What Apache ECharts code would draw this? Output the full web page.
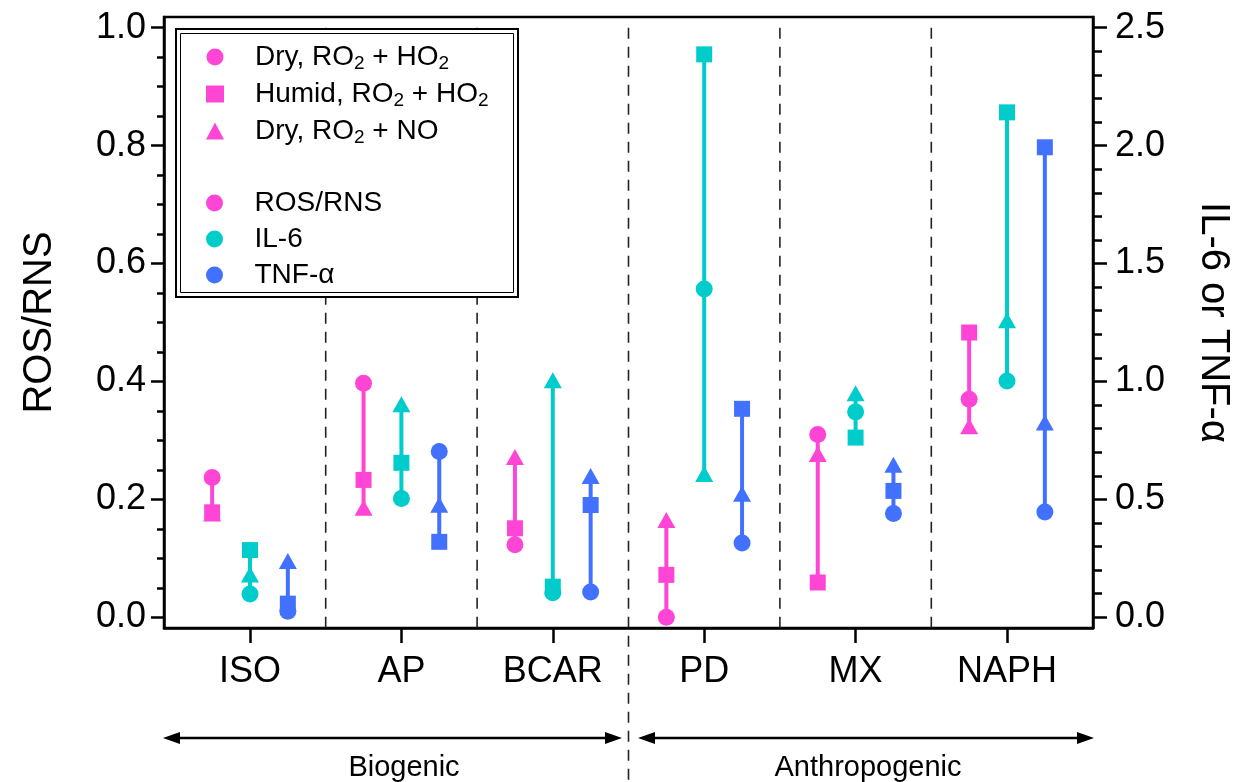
<!DOCTYPE html>
<html>
<head>
<meta charset="utf-8">
<script src="https://cdn.jsdelivr.net/npm/echarts@6/dist/echarts.min.js"></script>
<style>
  html, body { margin: 0; padding: 0; background: #fff; }
  #chart { width: 1246px; height: 782px; }
</style>
</head>
<body>
<div id="chart"></div>
<script>
  // categories and group positions
  const categories = ['ISO', 'AP', 'BCAR', 'PD', 'MX', 'NAPH'];
  const separators = [0.5, 1.5, 2.5, 3.5, 4.5];

  // ROS/RNS (left axis)
  const rosDry = [0.237, 0.397, 0.123, 0.000, 0.310, 0.370];
  const rosHumid = [0.178, 0.233, 0.151, 0.072, 0.059, 0.483];
  const rosNO = [0.176, 0.186, 0.272, 0.165, 0.277, 0.324];

  // IL-6 (right axis)
  const il6Dry = [0.099, 0.504, 0.104, 1.392, 0.871, 1.002];
  const il6Humid = [0.285, 0.655, 0.130, 2.387, 0.762, 2.141];
  const il6NO = [0.181, 0.903, 1.005, 0.608, 0.950, 1.260];

  // TNF-alpha (right axis)
  const tnfDry = [0.026, 0.703, 0.107, 0.315, 0.440, 0.446];
  const tnfHumid = [0.058, 0.320, 0.476, 0.884, 0.536, 1.993];
  const tnfNO = [0.239, 0.477, 0.599, 0.524, 0.647, 0.826];

  // tick labels
  const leftTicks = [0, 0.2, 0.4, 0.6, 0.8, 1.0];
  const leftMinor = [0.05, 0.1, 0.15, 0.25, 0.3, 0.35, 0.45, 0.5, 0.55, 0.65, 0.7, 0.75, 0.85, 0.9, 0.95];
  const rightTicks = [0, 0.5, 1.0, 1.5, 2.0, 2.5];
  const rightMinor = [0.1, 0.2, 0.3, 0.4, 0.6, 0.7, 0.8, 0.9, 1.1, 1.2, 1.3, 1.4, 1.6, 1.7, 1.8, 1.9, 2.1, 2.2, 2.3, 2.4];
  const catTicks = [0, 1, 2, 3, 4, 5];

  const PINK = '#ff45d6';
  const TEAL = '#00cccc';
  const BLUE = '#4271ff';
  const FONT = '"Liberation Sans", Arial, sans-serif';

  let chart = echarts.init(document.getElementById('chart'));

  function rangeSeries(off, a, b, c, yIdx, color) {
    const data = categories.map((n, i) => {
      const vals = [a[i], b[i], c[i]].filter(v => v != null);
      return [i + off, Math.min(...vals), Math.max(...vals)];
    });
    return {
      type: 'custom',
      yAxisIndex: yIdx,
      z: 2,
      silent: true,
      encode: { x: 0, y: [1, 2] },
      renderItem: function (params, api) {
        const p1 = api.coord([api.value(0), api.value(1)]);
        const p2 = api.coord([api.value(0), api.value(2)]);
        return {
          type: 'line',
          shape: { x1: p1[0], y1: p1[1], x2: p2[0], y2: p2[1] },
          style: { stroke: color, lineWidth: 4 }
        };
      },
      data: data
    };
  }

  function pts(off, vals) {
    return vals.map((v, i) => [i + off, v]);
  }

  function markers(name, off, vals, yIdx, color, symbol, size) {
    return {
      name: name,
      type: 'scatter',
      yAxisIndex: yIdx,
      z: 3,
      symbol: symbol,
      symbolSize: size,
      itemStyle: { color: color, opacity: 1 },
      emphasis: { disabled: true },
      data: pts(off, vals)
    };
  }

  const TRI = [18, 16];
  const SQ = [16, 16];
  const CIR = 17;

  const sub = s => s.replace(/O2/g, 'O{s|2}');

  const legendText = {
    fontFamily: FONT,
    fontSize: 28,
    color: '#000',
    lineHeight: 32,
    padding: [0, 0, 0, 26],
    rich: {
      s: { fontFamily: FONT, fontSize: 19, lineHeight: 12, verticalAlign: 'bottom' }
    }
  };

  const axisBlack = { color: '#000', width: 2.5 };

  chart.setOption({
    animation: false,
    backgroundColor: '#fff',
    textStyle: { fontFamily: FONT },
    grid: {
      left: 164, right: 153, top: 17, bottom: 154,
      show: true, borderColor: '#000', borderWidth: 2.5
    },
    legend: [
      {
        orient: 'vertical', left: 201, top: 36,
        itemWidth: 18, itemHeight: 17, itemGap: 5,
        selectedMode: false,
        textStyle: legendText,
        formatter: sub,
        data: [
          { name: 'Dry, RO2 + HO2', icon: 'circle' },
          { name: 'Humid, RO2 + HO2', icon: 'rect' },
          { name: 'Dry, RO2 + NO', icon: 'triangle' }
        ]
      },
      {
        orient: 'vertical', left: 201, top: 182,
        itemWidth: 18, itemHeight: 17, itemGap: 4,
        selectedMode: false,
        textStyle: legendText,
        data: [
          { name: 'ROS/RNS', icon: 'circle' },
          { name: 'IL-6', icon: 'circle' },
          { name: 'TNF-α', icon: 'circle' }
        ]
      }
    ],
    xAxis: {
      type: 'value',
      min: -0.568, max: 5.568,
      splitLine: { show: false },
      axisLine: { onZero: false, lineStyle: axisBlack },
      axisTick: { customValues: catTicks, length: 15, lineStyle: axisBlack },
      axisLabel: {
        customValues: catTicks, margin: 26, fontSize: 36, color: '#000', fontFamily: FONT,
        formatter: v => categories[Math.round(v)]
      }
    },
    yAxis: [
      {
        type: 'value', position: 'left',
        min: -0.01815, max: 1.01815,
        splitLine: { show: false },
        axisLine: { show: true, onZero: false, lineStyle: axisBlack },
        axisTick: { customValues: leftTicks, length: 13, lineStyle: axisBlack },
        axisLabel: {
          customValues: leftTicks, margin: 18, fontSize: 36, color: '#000', fontFamily: FONT,
          formatter: v => v.toFixed(1)
        },
        name: 'ROS/RNS', nameLocation: 'middle', nameGap: 104,
        nameTextStyle: { fontSize: 40, color: '#000', fontFamily: FONT }
      },
      {
        type: 'value', position: 'right',
        min: -0.04538, max: 2.54538,
        splitLine: { show: false },
        axisLine: { show: true, onZero: false, lineStyle: axisBlack },
        axisTick: { customValues: rightTicks, length: 14, lineStyle: axisBlack },
        axisLabel: {
          customValues: rightTicks, margin: 22, fontSize: 36, color: '#000', fontFamily: FONT,
          formatter: v => v.toFixed(1)
        },
        name: 'IL-6 or TNF-α', nameLocation: 'middle', nameGap: 100, nameRotate: -90,
        nameTextStyle: { fontSize: 40, color: '#000', fontFamily: FONT }
      },
      {
        type: 'value', position: 'left',
        min: -0.01815, max: 1.01815,
        splitLine: { show: false },
        axisLine: { show: false, onZero: false },
        axisTick: { customValues: leftMinor, length: 7, lineStyle: axisBlack },
        axisLabel: { show: false }
      },
      {
        type: 'value', position: 'right',
        min: -0.04538, max: 2.54538,
        splitLine: { show: false },
        axisLine: { show: false, onZero: false },
        axisTick: { customValues: rightMinor, length: 9, lineStyle: axisBlack },
        axisLabel: { show: false }
      }
    ],
    graphic: [
      // legend frame (double line)
      { type: 'rect', z: 3, shape: { x: 176, y: 29, width: 342, height: 268 },
        style: { fill: '#fff', stroke: '#000', lineWidth: 2 } },
      { type: 'rect', z: 3, shape: { x: 180.5, y: 33.5, width: 333, height: 259 },
        style: { fill: 'none', stroke: '#000', lineWidth: 1 } },
      // group arrows
      { type: 'line', shape: { x1: 172, y1: 738, x2: 614, y2: 738 }, style: { stroke: '#000', lineWidth: 2.5 } },
      { type: 'polygon', shape: { points: [[163, 738], [180, 732], [180, 744]] }, style: { fill: '#000' } },
      { type: 'polygon', shape: { points: [[622, 738], [605, 732], [605, 744]] }, style: { fill: '#000' } },
      { type: 'line', shape: { x1: 646, y1: 738, x2: 1086, y2: 738 }, style: { stroke: '#000', lineWidth: 2.5 } },
      { type: 'polygon', shape: { points: [[638, 738], [655, 732], [655, 744]] }, style: { fill: '#000' } },
      { type: 'polygon', shape: { points: [[1094, 738], [1077, 732], [1077, 744]] }, style: { fill: '#000' } },
      { type: 'text', x: 404, y: 768, style: { text: 'Biogenic', fontSize: 29, fontFamily: FONT, fill: '#000', align: 'center', verticalAlign: 'middle' } },
      { type: 'text', x: 868, y: 768, style: { text: 'Anthropogenic', fontSize: 29, fontFamily: FONT, fill: '#000', align: 'center', verticalAlign: 'middle' } }
    ],
    series: [
      {
        type: 'custom',
        yAxisIndex: 0,
        z: 1,
        silent: true,
        clip: false,
        renderItem: function (params, api) {
          const p = api.coord([api.value(0), 1.0]);
          const bottom = api.value(1) ? api.getHeight() : params.coordSys.y + params.coordSys.height;
          return {
            type: 'line',
            shape: { x1: p[0], y1: p[1], x2: p[0], y2: bottom },
            style: { stroke: '#222', lineWidth: 1.6, lineDash: [11, 8] }
          };
        },
        data: separators.map(s => [s, s === 2.5 ? 1 : 0])
      },
      rangeSeries(-0.25, rosDry, rosHumid, rosNO, 0, PINK),
      rangeSeries(0, il6Dry, il6Humid, il6NO, 1, TEAL),
      rangeSeries(0.25, tnfDry, tnfHumid, tnfNO, 1, BLUE),

      markers('Dry, RO2 + NO', -0.25, rosNO, 0, PINK, 'triangle', TRI),
      markers('Humid, RO2 + HO2', -0.25, rosHumid, 0, PINK, 'rect', SQ),
      markers('Dry, RO2 + HO2', -0.25, rosDry, 0, PINK, 'circle', CIR),
      markers('ROS/RNS', -0.25, [], 0, PINK, 'circle', CIR),

      markers('IL-6 NO', 0, il6NO, 1, TEAL, 'triangle', TRI),
      markers('IL-6 humid', 0, il6Humid, 1, TEAL, 'rect', SQ),
      markers('IL-6', 0, il6Dry, 1, TEAL, 'circle', CIR),

      markers('TNF-α NO', 0.25, tnfNO, 1, BLUE, 'triangle', TRI),
      markers('TNF-α humid', 0.25, tnfHumid, 1, BLUE, 'rect', SQ),
      markers('TNF-α', 0.25, tnfDry, 1, BLUE, 'circle', CIR)
    ]
  });
</script>
</body>
</html>
